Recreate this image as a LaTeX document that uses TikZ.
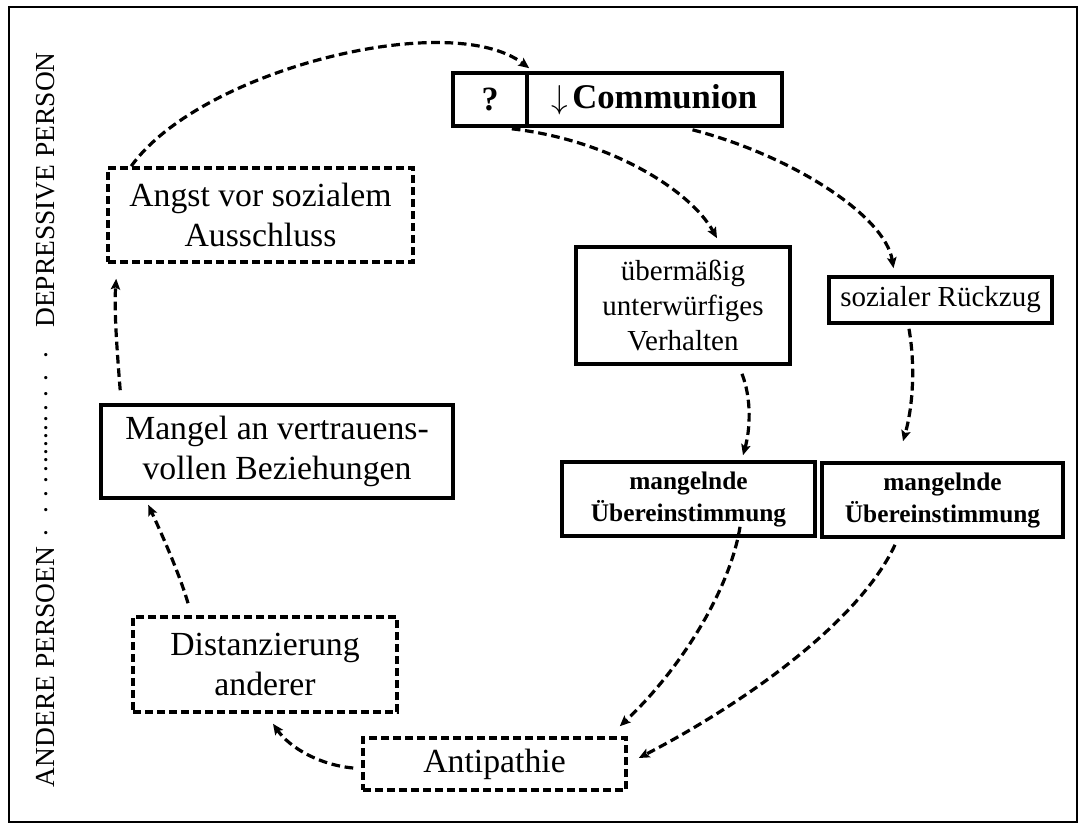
\documentclass[tikz,border=0pt]{standalone}
\usepackage{fontspec}
\setmainfont{Liberation Serif}
\usetikzlibrary{arrows.meta,calc}
\tikzset{
  solidbox/.style={draw, line width=2.7pt, inner sep=0pt, align=center},
  dashbox/.style={draw, line width=2.7pt, dash pattern=on 6pt off 3pt, inner sep=0pt, align=center},
  conn/.style={line width=2.4pt, dash pattern=on 6.5pt off 3.5pt, -{Stealth[length=8pt,width=7pt,inset=1.5pt]}},
  bigtext/.style={font=\fontsize{25.3}{30}\selectfont},
  midtext/.style={font=\fontsize{21.75}{26.25}\selectfont},
  boldtext/.style={font=\fontsize{19}{24}\selectfont\bfseries},
  sidetext/.style={rotate=90, inner sep=0pt, font=\fontsize{20.6}{24}\selectfont}
}
\begin{document}
\begin{tikzpicture}[x=0.75pt,y=-0.75pt]
\useasboundingbox (0,0) rectangle (1085,829);
\draw[line width=1.8pt] (9,7) rectangle (1077,822);

% side labels
\node[sidetext] (andere) at (46,667) {ANDERE PERSOEN};
\node[sidetext] (dots) at (46,444) {.\hspace{12pt}.\hspace{7pt}.\hspace{5pt}.\hspace{3pt}.\hspace{1.5pt}.\hspace{1pt}.\hspace{1pt}.\hspace{1pt}.\hspace{1pt}.\hspace{1.5pt}.\hspace{3pt}.\hspace{5pt}.\hspace{7pt}.\hspace{12pt}.};
\node[sidetext] (depr) at (46,190) {DEPRESSIVE PERSON};

% nodes
\node[solidbox, minimum width=55.5pt, minimum height=39.75pt, font=\fontsize{25.5}{30}\selectfont\bfseries] (q) at (490,99.5) {?};
\node[solidbox, minimum width=191.25pt, minimum height=39.75pt, font=\fontsize{26}{30}\selectfont] (comm) at (654.5,99.5) {$\downarrow$\hspace{3pt}\textbf{Communion}};
\node[dashbox, bigtext, minimum width=228.75pt, minimum height=70.5pt] (angst) at (260.5,215) {Angst vor sozialem\\Ausschluss};
\node[solidbox, bigtext, minimum width=264pt, minimum height=69.75pt] (mangel) at (277,451.5) {Mangel an vertrauens-\\vollen Beziehungen};
\node[dashbox, bigtext, minimum width=198pt, minimum height=71.25pt] (distanz) at (265,664.5) {Distanzierung\\anderer};
\node[dashbox, bigtext, minimum width=197.25pt, minimum height=39pt] (antip) at (494.5,764) {Antipathie};
\node[solidbox, midtext, minimum width=160.5pt, minimum height=87.75pt] (ueber) at (683,305.5) {übermäßig\\unterwürfiges\\Verhalten};
\node[solidbox, midtext, minimum width=167.25pt, minimum height=34.5pt] (rueck) at (940.5,300) {sozialer Rückzug};
\node[solidbox, boldtext, minimum width=189.75pt, minimum height=55.5pt] (mang1) at (688.5,499) {mangelnde\\Übereinstimmung};
\node[solidbox, boldtext, minimum width=180.75pt, minimum height=55.5pt] (mang2) at (942.5,500) {mangelnde\\Übereinstimmung};

% connectors
\draw[conn] ($(angst.north west)+(25,0)$) .. controls (200,70) and (450,8) .. ($(comm.north west)+(4,-3)$);
\draw[conn] ($(q.south east)+(-17,1)$) .. controls (610,140) and (690,190) .. ($(ueber.north)+(34,-7)$);
\draw[conn] ($(comm.south)+(38,2)$) .. controls (790,155) and (885,215) .. ($(rueck.north)+(-47,-7)$);
\draw[conn] ($(ueber.south)+(59,8)$) .. controls (752,400) and (750,430) .. ($(mang1.north)+(54.5,-5)$);
\draw[conn] ($(rueck.south)+(-31.5,4)$) .. controls (916,370) and (912,410) .. ($(mang2.north)+(-39.5,-20)$);
\draw[conn] ($(mang1.south)+(51.5,-11)$) .. controls (730,590) and (680,670) .. ($(antip.north east)+(-8,-10)$);
\draw[conn] ($(mang2.south)+(-47.5,6)$) .. controls (860,620) and (750,700) .. ($(antip.east)+(11,-6)$);
\draw[conn] ($(antip.west)+(-8,4)$) .. controls (320,765) and (290,748) .. ($(distanz.south)+(8,10)$);
\draw[conn] ($(distanz.north)+(-77,-12)$) .. controls (180,575) and (160,530) .. ($(mangel.south west)+(49,5)$);
\draw[conn] ($(mangel.north west)+(21,-13)$) .. controls (117,350) and (114,310) .. ($(angst.south west)+(10,15)$);
\end{tikzpicture}
\end{document}
